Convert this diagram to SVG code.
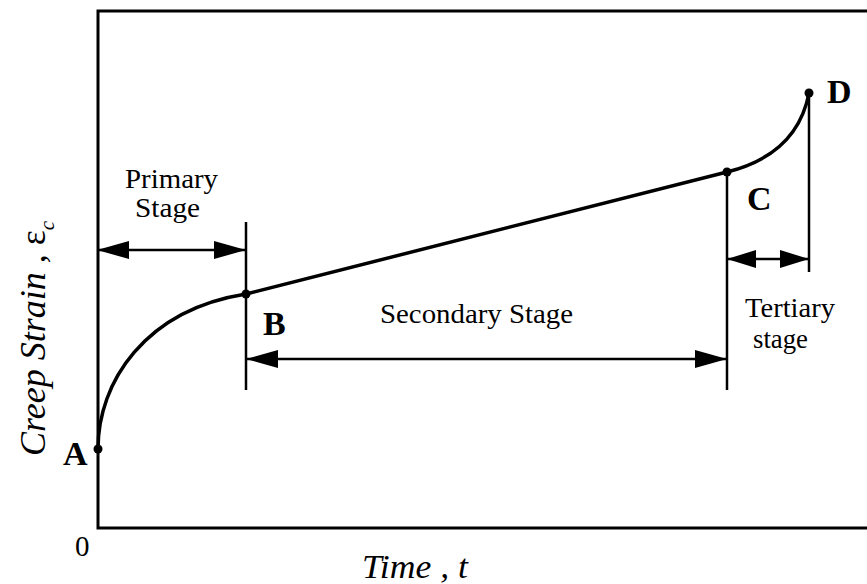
<svg xmlns="http://www.w3.org/2000/svg" width="867" height="584" viewBox="0 0 867 584">
<style>
  text { font-family: "Liberation Serif", "Times New Roman", serif; fill: #000; }
  .lbl { font-size: 27px; }
  .pt { font-size: 34px; font-weight: bold; }
  .ax { font-size: 33px; font-style: italic; }
  .frame { fill: none; stroke: #000; stroke-width: 3; }
  .curve { fill: none; stroke: #000; stroke-width: 3.5; }
  .tick { stroke: #000; stroke-width: 2.5; }
  .dim { stroke: #000; stroke-width: 2.5; marker-start: url(#ah); marker-end: url(#ah); }
  .dimS { stroke: #000; stroke-width: 2.5; marker-start: url(#ahS); marker-end: url(#ahS); }
  .dot { fill: #000; }
</style>
<defs>
  <marker id="ah" markerUnits="userSpaceOnUse" markerWidth="32" markerHeight="18" refX="32" refY="9" orient="auto-start-reverse" viewBox="0 0 32 18">
    <path d="M0,0 L32,9 L0,18 Z" fill="#000"/>
  </marker>
  <marker id="ahS" markerUnits="userSpaceOnUse" markerWidth="29" markerHeight="18" refX="29" refY="9" orient="auto-start-reverse" viewBox="0 0 29 18">
    <path d="M0,0 L29,9 L0,18 Z" fill="#000"/>
  </marker>
</defs>
<g id="axes">
  <path class="frame" d="M867,11 L98,11 L98,528 L867,528"/>
  <text id="origin" x="75" y="556" style="font-size:29px">0</text>
  <text id="xlabel" class="ax" x="362" y="578" textLength="106" lengthAdjust="spacingAndGlyphs">Time , t</text>
  <text id="ylabel" class="ax" style="font-size:36px" transform="translate(45,456) rotate(-90)">Creep Strain , <tspan style="font-style:normal">ε</tspan><tspan dy="9" style="font-size:21px">c</tspan></text>
</g>
<g id="connectors">
  <line class="tick" x1="246" y1="222" x2="246" y2="390"/>
  <line class="tick" x1="727" y1="172" x2="727" y2="390"/>
  <line class="tick" x1="809" y1="93" x2="809" y2="272"/>
  <line class="dim" x1="97" y1="250" x2="246" y2="250"/>
  <line class="dim" x1="246" y1="359" x2="727" y2="359"/>
  <line class="dimS" x1="727" y1="259" x2="809" y2="259"/>
</g>
<g id="curve">
  <path class="curve" d="M98,449 C98,382 145,310 246,294 L727,172 C767,162 800,140 809,93"/>
</g>
<g id="A"><circle class="dot" cx="98" cy="449" r="4.5"/><text class="pt" x="63" y="465">A</text></g>
<g id="B"><circle class="dot" cx="246" cy="294" r="4.5"/><text class="pt" x="263" y="335">B</text></g>
<g id="C"><circle class="dot" cx="727" cy="172" r="4.5"/><text class="pt" x="747" y="210">C</text></g>
<g id="D"><circle class="dot" cx="809" cy="93" r="4.5"/><text class="pt" x="827" y="103">D</text></g>
<g id="primary">
  <text class="lbl" x="125" y="188" textLength="93" lengthAdjust="spacingAndGlyphs">Primary</text>
  <text class="lbl" x="135" y="217" textLength="65" lengthAdjust="spacingAndGlyphs">Stage</text>
</g>
<g id="secondary">
  <text class="lbl" x="380" y="323" textLength="193" lengthAdjust="spacingAndGlyphs">Secondary Stage</text>
</g>
<g id="tertiary">
  <text class="lbl" x="745" y="317" textLength="90" lengthAdjust="spacingAndGlyphs">Tertiary</text>
  <text class="lbl" x="753" y="348" textLength="55" lengthAdjust="spacingAndGlyphs">stage</text>
</g>
</svg>
